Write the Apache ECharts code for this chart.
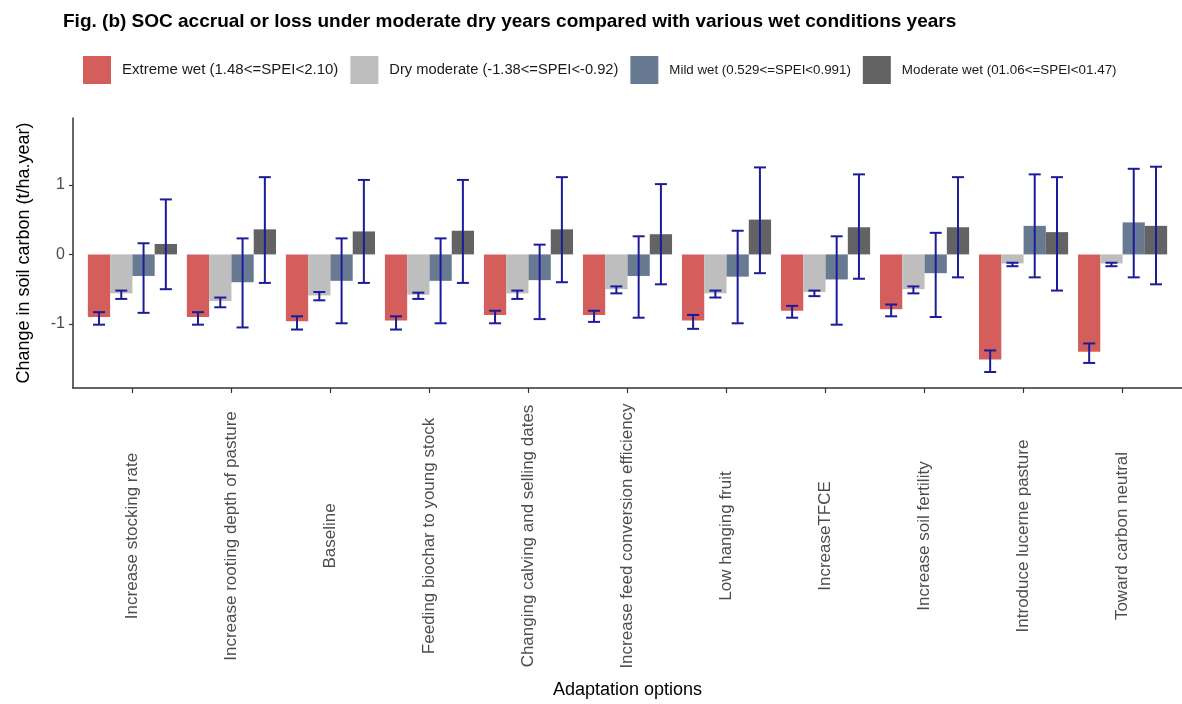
<!DOCTYPE html>
<html>
<head>
<meta charset="utf-8">
<script src="https://cdn.jsdelivr.net/npm/echarts@6/dist/echarts.min.js"></script>
<style>
html,body{margin:0;padding:0;background:#fff;}
#chart{width:1182px;height:704px;}
</style>
</head>
<body>
<div id="chart"></div>
<script>
const categories = ['Increase stocking rate','Increase rooting depth of pasture','Baseline','Feeding biochar to young stock','Changing calving and selling dates','Increase feed conversion efficiency','Low hanging fruit','IncreaseTFCE','Increase soil fertility','Introduce lucerne pasture','Toward carbon neutral'];

const seriesNames = ['Extreme wet (1.48<=SPEI<2.10)','Dry moderate (-1.38<=SPEI<-0.92)','Mild wet (0.529<=SPEI<0.991)','Moderate wet (01.06<=SPEI<01.47)'];

const extremeWet     = [-0.90,-0.90,-0.96,-0.95,-0.87,-0.87,-0.95,-0.81,-0.79,-1.51,-1.40];
const extremeWetLow  = [-1.01,-1.01,-1.08,-1.08,-0.99,-0.97,-1.07,-0.91,-0.89,-1.69,-1.56];
const extremeWetHigh = [-0.83,-0.83,-0.89,-0.89,-0.81,-0.81,-0.87,-0.74,-0.72,-1.38,-1.28];

const dryModerate     = [-0.56,-0.67,-0.59,-0.58,-0.56,-0.50,-0.56,-0.54,-0.50,-0.13,-0.13];
const dryModerateLow  = [-0.64,-0.76,-0.66,-0.64,-0.64,-0.56,-0.62,-0.60,-0.56,-0.17,-0.17];
const dryModerateHigh = [-0.52,-0.62,-0.54,-0.55,-0.52,-0.46,-0.52,-0.52,-0.46,-0.12,-0.12];

const mildWet     = [-0.31,-0.40,-0.38,-0.38,-0.37,-0.31,-0.32,-0.36,-0.27,0.41,0.46];
const mildWetLow  = [-0.84,-1.05,-0.99,-0.99,-0.93,-0.91,-0.99,-1.01,-0.90,-0.33,-0.33];
const mildWetHigh = [0.16,0.23,0.23,0.23,0.14,0.26,0.34,0.26,0.31,1.15,1.23];

const moderateWet     = [0.15,0.36,0.33,0.34,0.36,0.29,0.50,0.39,0.39,0.32,0.41];
const moderateWetLow  = [-0.50,-0.41,-0.41,-0.41,-0.40,-0.43,-0.27,-0.35,-0.33,-0.52,-0.43];
const moderateWetHigh = [0.79,1.11,1.07,1.07,1.11,1.01,1.25,1.15,1.11,1.11,1.26];

const yTicks = [-1, 0, 1];

const means = [extremeWet, dryModerate, mildWet, moderateWet];
const lows = [extremeWetLow, dryModerateLow, mildWetLow, moderateWetLow];
const highs = [extremeWetHigh, dryModerateHigh, mildWetHigh, moderateWetHigh];
const colors = ['#d35e5b', '#bebebe', '#687a91', '#636363'];
const legendFontSizes = [15, 14.7, 13.3, 13.4];
const catIdx = categories.map((c, i) => i);
const FONT = 'Liberation Sans, Arial, sans-serif';
const GROUP_FRAC = 0.9;

const chart = echarts.init(document.getElementById('chart'));

const barSeries = means.map((arr, s) => ({
  name: seriesNames[s],
  type: 'bar',
  data: arr.map((v, i) => [i, v]),
  itemStyle: { color: colors[s] },
  barGap: '0%',
  barCategoryGap: '10%',
  silent: true
}));

const errData = [];
means.forEach((arr, s) => {
  arr.forEach((v, i) => errData.push([i, lows[s][i], highs[s][i], s]));
});

const errSeries = {
  type: 'custom',
  name: 'err',
  data: errData,
  encode: { x: 0, y: [1, 2] },
  silent: true,
  z: 5,
  renderItem: function (params, api) {
    const i = api.value(0), lo = api.value(1), hi = api.value(2), s = api.value(3);
    const band = api.size([1, 0])[0];
    const bw = band * GROUP_FRAC / 4;
    const cx = api.coord([i, 0])[0] + (s - 1.5) * bw;
    const yLo = api.coord([i, lo])[1];
    const yHi = api.coord([i, hi])[1];
    const cap = 6;
    const style = { stroke: '#1c1c9a', lineWidth: 2 };
    return {
      type: 'group',
      children: [
        { type: 'line', shape: { x1: cx, y1: yLo, x2: cx, y2: yHi }, style: style },
        { type: 'line', shape: { x1: cx - cap, y1: yLo, x2: cx + cap, y2: yLo }, style: style },
        { type: 'line', shape: { x1: cx - cap, y1: yHi, x2: cx + cap, y2: yHi }, style: style }
      ]
    };
  }
};

chart.setOption({
  animation: false,
  backgroundColor: '#ffffff',
  title: {
    text: 'Fig. (b) SOC accrual or loss under moderate dry years compared with various wet conditions years',
    left: 63, top: 12, padding: 0,
    textStyle: { fontFamily: FONT, fontSize: 19, fontWeight: 'bold', color: '#000' }
  },
  legend: {
    data: seriesNames.map((n, s) => ({ name: n, textStyle: { fontSize: legendFontSizes[s] } })),
    left: 83, top: 56, padding: 0,
    itemWidth: 28, itemHeight: 28, itemGap: 12,
    icon: 'rect',
    textStyle: { fontFamily: FONT, fontSize: 15, color: '#1a1a1a', padding: [0, 0, 0, 6] }
  },
  grid: { left: 73, right: 0, top: 118, bottom: 316, containLabel: false },
  xAxis: {
    type: 'value', min: -0.6, max: 10.6,
    name: 'Adaptation options', nameLocation: 'middle', nameGap: 293,
    nameTextStyle: { fontFamily: FONT, fontSize: 18, color: '#000' },
    axisLine: { show: true, onZero: false, lineStyle: { color: '#333', width: 1.5 } },
    axisTick: { show: true, customValues: catIdx, length: 5, lineStyle: { color: '#333', width: 1.2 } },
    axisLabel: {
      show: true, customValues: catIdx, rotate: 90, align: 'center', margin: 148,
      fontFamily: FONT, fontSize: 17, color: '#4d4d4d',
      formatter: v => categories[Math.round(v)]
    },
    splitLine: { show: false }
  },
  yAxis: {
    type: 'value', min: -1.92, max: 1.96,
    name: 'Change in soil carbon (t/ha.year)', nameLocation: 'middle', nameGap: 40,
    nameTextStyle: { fontFamily: FONT, fontSize: 18, color: '#000' },
    axisLine: { show: true, onZero: false, lineStyle: { color: '#333', width: 1.5 } },
    axisTick: { show: true, customValues: yTicks, length: 4, lineStyle: { color: '#333', width: 1.2 } },
    axisLabel: { show: true, customValues: yTicks, margin: 8, fontFamily: FONT, fontSize: 16, color: '#4d4d4d' },
    splitLine: { show: false }
  },
  series: barSeries.concat([errSeries])
});
</script>
</body>
</html>
